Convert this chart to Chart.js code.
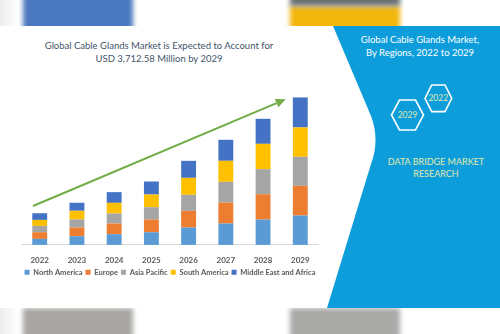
<!DOCTYPE html>
<html>
<head>
<meta charset="utf-8">
<script src="https://cdn.jsdelivr.net/npm/chart.js@4.4.1/dist/chart.umd.min.js"></script>
<style>
  html, body { margin: 0; padding: 0; }
  body { width: 500px; height: 334px; overflow: hidden; background: #fff; position: relative; font-family: Lato, 'Open Sans', sans-serif; }
  .strip { position: absolute; left: 0; width: 500px; overflow: hidden; background: linear-gradient(to right, #ececec 0, #fff 18px, #fff 100%); }
  .strip div { position: absolute; filter: blur(2.5px); }
  #top { top: 0; height: 26px; }
  #bottom { top: 308px; height: 26px; }
  #panel { position: absolute; left: 0; top: 0; }
  #heading { position: absolute; left: 0; top: 39px; width: 318px; text-align: center; color: #44546a; font-size: 9.5px; line-height: 13.3px; }
  #wrap { position: absolute; left: 20px; top: 26px; width: 300px; height: 282px; }
</style>
</head>
<body>
<div class="strip" id="top">
  <div style="left:23px;top:-10px;width:110px;height:50px;background:#4a78c0"></div>
  <div style="left:290px;top:6px;width:110px;height:40px;background:#f2b60c"></div>
  <div style="left:290px;top:-10px;width:110px;height:16px;background:#687073"></div>
</div>
<div class="strip" id="bottom">
  <div style="left:23px;top:0;width:110px;height:40px;background:#a8a6a2"></div>
  <div style="left:290px;top:0;width:110px;height:40px;background:#a9aaa8"></div>
</div>

<svg id="panel" width="500" height="334" viewBox="0 0 500 334">
  <path d="M333,26 L371,116 Q380,140 371,164 L327,308 L500,308 L500,26 Z" fill="#0d9ddb"/>
  <text x="420" y="43" text-anchor="middle" fill="#fff" font-family="Lato" font-size="9.5">Global Cable Glands Market,</text>
  <text x="420" y="56" text-anchor="middle" fill="#fff" font-family="Lato" font-size="9.5">By Regions, 2022 to 2029</text>
  <polygon points="391.5,115 399.5,100 415.5,100 423.5,115 415.5,130 399.5,130" fill="none" stroke="#fff" stroke-width="1.6"/>
  <polygon points="425,98.3 431.7,85 445,85 451.7,98.3 445,111.6 431.7,111.6" fill="none" stroke="#fff" stroke-width="1.6"/>
  <text x="407.5" y="118" text-anchor="middle" fill="#dfe8a8" font-family="Lato" font-size="8.5">2029</text>
  <text x="438.3" y="101.3" text-anchor="middle" fill="#dfe8a8" font-family="Lato" font-size="8.5">2022</text>
  <text x="436" y="164.5" text-anchor="middle" fill="#e2eaa8" font-family="Lato" font-size="9">DATA BRIDGE MARKET</text>
  <text x="436" y="177" text-anchor="middle" fill="#e2eaa8" font-family="Lato" font-size="9">RESEARCH</text>
</svg>

<div id="heading">Global Cable Glands Market is Expected to Account for<br>USD 3,712.58 Million by 2029</div>

<div id="wrap"><canvas id="chart" width="300" height="282"></canvas></div>

<script>
// market size by region, USD million
const years = ['2022', '2023', '2024', '2025', '2026', '2027', '2028', '2029'];
const northAmerica = [151, 219, 269, 319, 437, 538, 638, 739.2];
const europe = [168, 219, 269, 319, 420, 529, 638, 748.1];
const asiaPacific = [159, 202, 252, 311, 403, 521, 630, 730.6];
const southAmerica = [151, 219, 269, 319, 428, 529, 638, 739.2];
const middleEastAfrica = [168, 202, 269, 328, 428, 529, 630, 755.48];
const yMax = 4000;

// growth arrow, [category index, value]
const trendFrom = [-0.18, 980];
const trendTo = [6.61, 3665];

const tickFont = { family: 'Lato', size: 8, weight: 'bold' };
const legendFont = { family: 'Lato', size: 7.5, weight: 'bold' };

const trendArrow = {
  id: 'trendArrow',
  afterDatasetsDraw(chart) {
    const { ctx, scales: { x, y } } = chart;
    const x1 = x.getPixelForValue(trendFrom[0]), y1 = y.getPixelForValue(trendFrom[1]);
    const x2 = x.getPixelForValue(trendTo[0]), y2 = y.getPixelForValue(trendTo[1]);
    const ang = Math.atan2(y2 - y1, x2 - x1);
    const head = 10, half = 4.5;
    ctx.save();
    ctx.strokeStyle = '#70ad47';
    ctx.fillStyle = '#70ad47';
    ctx.lineWidth = 2;
    ctx.beginPath();
    ctx.moveTo(x1, y1);
    ctx.lineTo(x2 - Math.cos(ang) * head, y2 - Math.sin(ang) * head);
    ctx.stroke();
    ctx.beginPath();
    ctx.moveTo(x2, y2);
    ctx.lineTo(x2 - Math.cos(ang) * head - Math.sin(ang) * half, y2 - Math.sin(ang) * head + Math.cos(ang) * half);
    ctx.lineTo(x2 - Math.cos(ang) * head + Math.sin(ang) * half, y2 - Math.sin(ang) * head - Math.cos(ang) * half);
    ctx.closePath();
    ctx.fill();
    ctx.restore();
  }
};

new Chart(document.getElementById('chart'), {
  type: 'bar',
  data: {
    labels: years,
    datasets: [
      { label: 'North America', data: northAmerica, backgroundColor: '#5b9bd5' },
      { label: 'Europe', data: europe, backgroundColor: '#ed7d31' },
      { label: 'Asia Pacific', data: asiaPacific, backgroundColor: '#a5a5a5' },
      { label: 'South America', data: southAmerica, backgroundColor: '#ffc000' },
      { label: 'Middle East and Africa', data: middleEastAfrica, backgroundColor: '#4472c4' },
    ],
  },
  options: {
    responsive: false,
    animation: false,
    devicePixelRatio: 1,
    categoryPercentage: 0.8,
    barPercentage: 0.5,
    layout: { padding: { top: 60, left: 0, right: 0, bottom: 22 } },
    scales: {
      x: {
        stacked: true,
        grid: { display: false, drawTicks: false },
        border: { color: '#d9d9d9' },
        ticks: { color: '#595959', font: tickFont, padding: 10.5 },
        // keep the legend tucked up under the year labels
        afterFit(scale) { scale.height -= 10; },
      },
      y: { stacked: true, display: false, min: 0, max: yMax },
    },
    plugins: {
      legend: {
        position: 'bottom',
        labels: { color: '#595959', font: legendFont, boxWidth: 5, boxHeight: 5, padding: 3 },
      },
      tooltip: { enabled: false },
    },
  },
  plugins: [trendArrow],
});
</script>
</body>
</html>
